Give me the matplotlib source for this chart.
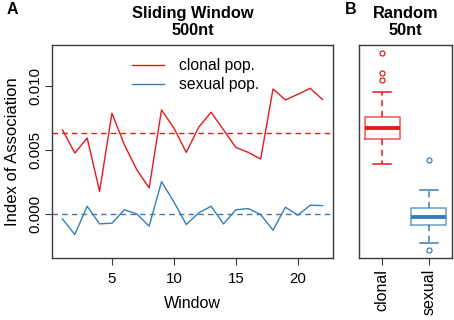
import matplotlib
matplotlib.use('Agg')
import matplotlib.pyplot as plt
import numpy as np

plt.rcParams['font.family'] = ['Liberation Sans', 'DejaVu Sans']

# sliding window index of association, windows 1..22
windows = list(range(1, 23))
clonal = [0.00655, 0.00473, 0.00590, 0.00174, 0.00784, 0.00538, 0.00343, 0.00200,
          0.00810, 0.00668, 0.00478, 0.00675, 0.00792, 0.00655, 0.00517, 0.00478,
          0.00426, 0.00974, 0.00888, 0.00932, 0.00979, 0.00891]
sexual = [-0.00042, -0.00164, 0.00057, -0.00081, -0.00075, 0.00029, -0.00003, -0.00099,
          0.00249, 0.00091, -0.00086, 0.00005, 0.00057, -0.00081, 0.00029, 0.00039,
          -0.00008, -0.00130, 0.00049, -0.00013, 0.00065, 0.00062]

# random 50nt boxplot summaries
box_groups = ['clonal', 'sexual']
box_low = [0.00387, -0.00231]
box_q1 = [0.00582, -0.00088]
box_med = [0.00667, -0.00029]
box_q3 = [0.00753, 0.00044]
box_high = [0.00948, 0.00185]
box_out = [[0.01256, 0.01100, 0.01044], [0.00418, -0.00286]]

RED = '#E41A1C'
BLUE = '#377EB8'
FRAME = '#3a3a3a'

fig = plt.figure(figsize=(4.54, 3.2), dpi=100)
axA = fig.add_axes([52/454, 62/320, 281/454, 213/320])
axB = fig.add_axes([359/454, 62/320, 93/454, 213/320])

# shared y range from all values, R-style 4% padding
allv = clonal + sexual + box_low + box_high + sum(box_out, [])
lo, hi = min(allv), max(allv)
pad = 0.04 * (hi - lo)
ylim = (lo - pad, hi + pad)

axA.plot(windows, clonal, color=RED, lw=1.0, label='clonal pop.')
axA.plot(windows, sexual, color=BLUE, lw=1.0, label='sexual pop.')
axA.axhline(np.mean(clonal), color=RED, lw=1.0, ls=(0, (4, 3)))
axA.axhline(np.mean(sexual), color=BLUE, lw=1.0, ls=(0, (4, 3)))
axA.set_xlim(1 - 0.04 * 21, 22 + 0.04 * 21)
axA.set_ylim(*ylim)
axA.set_xticks([5, 10, 15, 20])
axA.set_yticks([0.0, 0.005, 0.010])
axA.set_yticklabels(['0.000', '0.005', '0.010'], rotation=90, va='center')
axA.tick_params(labelsize=10.8, length=5, width=0.8, color=FRAME)
axA.tick_params(axis='x', pad=5)
axA.tick_params(axis='y', pad=2)
axA.set_xlabel('Window', fontsize=11.5, labelpad=7)
axA.set_ylabel('Index of Association', fontsize=12, labelpad=6)
axA.legend(loc='upper left', bbox_to_anchor=(0.255, 0.975), frameon=False,
           fontsize=11.3, handlelength=2.1, handletextpad=0.9, labelspacing=0.25,
           borderpad=0)
axA.set_title('Sliding Window\n500nt', fontsize=11.8, fontweight='bold', pad=7,
              linespacing=1.2)

stats = []
for i, g in enumerate(box_groups):
    stats.append(dict(label=g, whislo=box_low[i], q1=box_q1[i], med=box_med[i],
                      q3=box_q3[i], whishi=box_high[i], fliers=box_out[i]))
for i, col in enumerate([RED, BLUE]):
    axB.bxp([stats[i]], positions=[i + 1], widths=0.75, showfliers=True,
            boxprops=dict(color=col, lw=1.1, alpha=0.75),
            medianprops=dict(color=col, lw=2.8),
            whiskerprops=dict(color=col, lw=1.1, ls=(0, (4, 3))),
            capprops=dict(color=col, lw=1.1),
            capwidths=0.38,
            flierprops=dict(marker='o', markersize=3.6, markerfacecolor='none',
                            markeredgecolor=col, markeredgewidth=0.9))
axB.set_xlim(0.5, 2.5)
axB.set_ylim(*ylim)
axB.set_yticks([])
axB.set_xticks([1, 2])
axB.set_xticklabels(box_groups, rotation=90, fontsize=11.5)
axB.tick_params(length=5, width=0.8, color=FRAME, pad=3)
axB.set_title('Random\n50nt', fontsize=11.8, fontweight='bold', pad=7,
              linespacing=1.2)

for ax in (axA, axB):
    for s in ax.spines.values():
        s.set_color(FRAME)
        s.set_linewidth(1.0)

fig.text(12.5/454, 1 - 9/320, 'A', fontsize=11.5, fontweight='bold', ha='center', va='center')
fig.text(351/454, 1 - 9/320, 'B', fontsize=11.5, fontweight='bold', ha='center', va='center')

fig.savefig('out.png', dpi=100)
